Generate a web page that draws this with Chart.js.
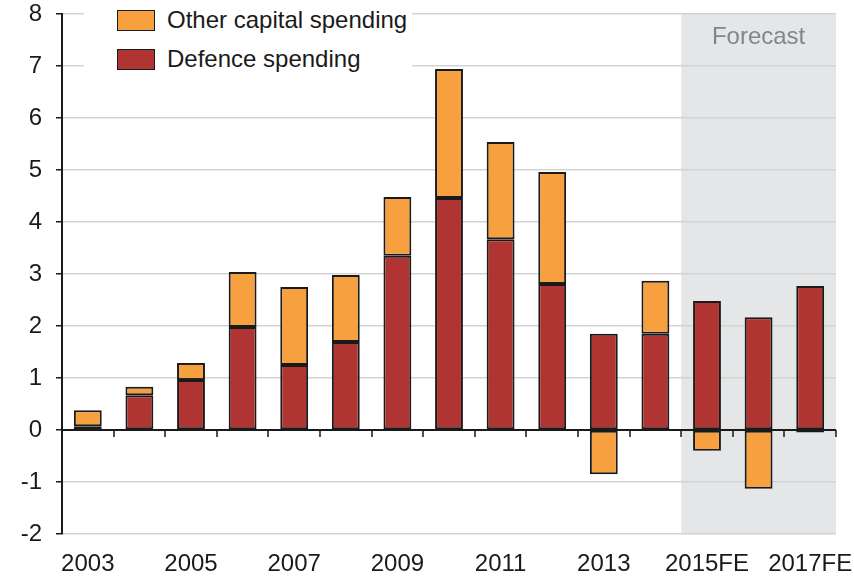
<!DOCTYPE html>
<html>
<head>
<meta charset="utf-8">
<script src="https://cdn.jsdelivr.net/npm/chart.js@4"></script>
<style>
  body { margin: 0; background: #fff; font-family: "Liberation Sans", Arial, sans-serif; }
  #wrap { position: relative; width: 854px; height: 577px; }
  #legend { position: absolute; left: 84px; top: 0; width: 328px; height: 77px; background: #fff; }
  .item { position: absolute; left: 33px; height: 22px; font-size: 24px; color: #1a1a1a; line-height: 22px; }
  .item span { position: absolute; left: 0; top: 0; width: 36px; height: 19px; border: 1.5px solid #1a1a1a; }
  .item div { position: absolute; left: 50px; top: -1px; white-space: nowrap; }
</style>
</head>
<body>
<div id="wrap">
  <canvas id="chart"></canvas>
  <div id="legend">
    <div class="item" style="top:10px"><span style="background:#F7A03F"></span><div>Other capital spending</div></div>
    <div class="item" style="top:49px"><span style="background:#B03432"></span><div>Defence spending</div></div>
  </div>
</div>
<script>
const years = ["2003", "2004", "2005", "2006", "2007", "2008", "2009", "2010", "2011", "2012", "2013", "2014", "2015FE", "2016FE", "2017FE"];
const defence = [0.07, 0.67, 0.96, 1.98, 1.25, 1.69, 3.35, 4.46, 3.67, 2.81, 1.85, 1.85, 2.48, 2.17, 2.77];
const otherCapital = [0.31, 0.16, 0.33, 1.06, 1.50, 1.29, 1.13, 2.48, 1.87, 2.15, -0.85, 1.02, -0.40, -1.13, -0.05];
const forecastStart = 12; // index of 2015FE
const forecastLabel = "Forecast";

// fond gris pour la prévision + ligne zéro
const extras = {
    id: "extras",
    beforeDraw(chart) {
        const ctx = chart.ctx;
        const x = chart.scales.x;
        const area = chart.chartArea;
        const w = x.getPixelForValue(1) - x.getPixelForValue(0);
        const left = x.getPixelForValue(forecastStart) - w / 2;
        ctx.save();
        ctx.fillStyle = "#E5E6E8";
        ctx.fillRect(left, area.top, area.right - left, area.bottom - area.top);
        ctx.fillStyle = "#7E8790";
        ctx.font = "24px 'Liberation Sans', Arial, sans-serif";
        ctx.textAlign = "center";
        ctx.textBaseline = "middle";
        ctx.fillText(forecastLabel, (left + area.right) / 2, area.top + 23);
        ctx.restore();
    },
    afterDatasetsDraw(chart) {
        const ctx = chart.ctx;
        const x = chart.scales.x;
        const y0 = chart.scales.y.getPixelForValue(0);
        const area = chart.chartArea;
        const w = x.getPixelForValue(1) - x.getPixelForValue(0);
        ctx.save();
        ctx.strokeStyle = "#1a1a1a";
        ctx.lineWidth = 2;
        ctx.beginPath();
        ctx.moveTo(area.left, y0);
        ctx.lineTo(area.right, y0);
        ctx.stroke();
        ctx.lineWidth = 1.5;
        ctx.beginPath();
        for (let i = 0; i <= years.length; i++) {
            const px = Math.round(x.getPixelForValue(0) - w / 2 + i * w);
            ctx.moveTo(px, y0);
            ctx.lineTo(px, y0 + 7);
        }
        ctx.stroke();
        ctx.restore();
    }
};

new Chart(document.getElementById("chart"), {
    type: "bar",
    data: {
        labels: years,
        datasets: [
            {
                label: "Defence spending",
                data: defence,
                backgroundColor: "#B03432",
                borderColor: "#1a1a1a",
                borderWidth: 2,
                borderSkipped: false
            },
            {
                label: "Other capital spending",
                data: otherCapital,
                backgroundColor: "#F7A03F",
                borderColor: "#1a1a1a",
                borderWidth: 2,
                borderSkipped: false
            }
        ]
    },
    options: {
        responsive: true,
        maintainAspectRatio: false,
        animation: false,
        datasets: { bar: { categoryPercentage: 1, barPercentage: 0.54 } },
        layout: { padding: { top: 14, right: 18, left: 0, bottom: 0 } },
        plugins: { legend: { display: false }, tooltip: { enabled: false } },
        scales: {
            x: {
                stacked: true,
                grid: { display: false, drawTicks: false },
                border: { display: false },
                ticks: {
                    autoSkip: false,
                    maxRotation: 0,
                    padding: 16,
                    color: "#1a1a1a",
                    font: { family: "'Liberation Sans', Arial, sans-serif", size: 24 },
                    callback: (v, i) => (i % 2 === 0 ? years[i] : "")
                },
                afterFit: (s) => { s.height = 43; s.paddingLeft = 0; s.paddingRight = 0; }
            },
            y: {
                stacked: true,
                min: -2,
                max: 8,
                grid: { color: "#D3D3D3", lineWidth: 1.5, tickLength: 6, tickColor: "#1a1a1a" },
                border: { color: "#1a1a1a", width: 2 },
                ticks: {
                    stepSize: 1,
                    padding: 14,
                    color: "#1a1a1a",
                    font: { family: "'Liberation Sans', Arial, sans-serif", size: 24 }
                },
                afterFit: (s) => { s.width = 62; s.paddingTop = 0; s.paddingBottom = 0; }
            }
        }
    },
    plugins: [extras]
});
</script>
</body>
</html>
